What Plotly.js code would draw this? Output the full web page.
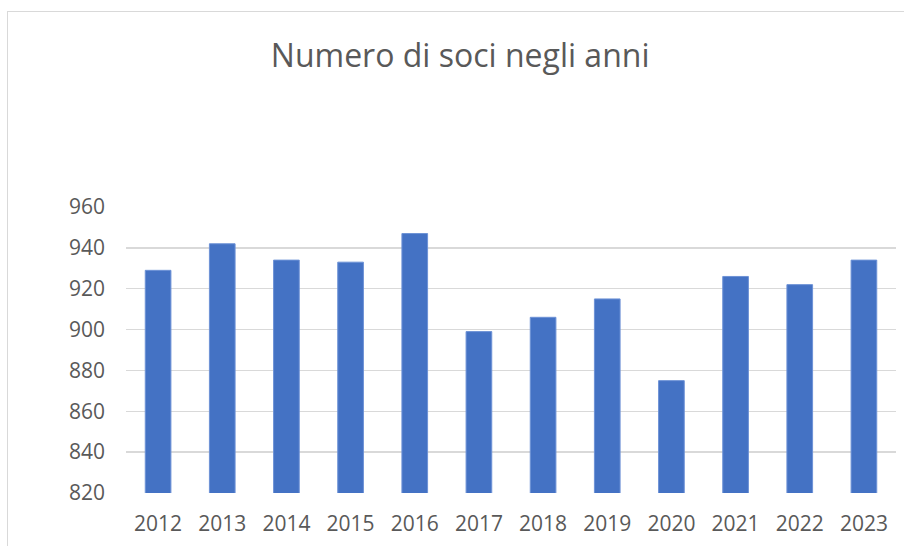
<!DOCTYPE html>
<html>
<head>
<meta charset="utf-8">
<script src="https://cdn.plot.ly/plotly-3.0.1.min.js"></script>
<style>
  html, body { margin: 0; padding: 0; background: #fff; }
  #wrap { position: relative; width: 904px; height: 546px; overflow: hidden; }
  #chart { position: absolute; left: 0; top: 0; width: 904px; height: 546px; }
  #frame { position: absolute; left: 7px; top: 11px; width: 960px; height: 600px;
           border-left: 1.5px solid #d9d9d9; border-top: 1.5px solid #d9d9d9; pointer-events: none; }
</style>
</head>
<body>
<div id="wrap">
  <div id="chart"></div>
  <div id="frame"></div>
</div>
<script>
const years = ["2012","2013","2014","2015","2016","2017","2018","2019","2020","2021","2022","2023"];
const members = [929, 942, 934, 933, 947, 899, 906, 915, 875, 926, 922, 934];
const yTicks = [820, 840, 860, 880, 900, 920, 940, 960];
const chartTitle = "Numero di soci negli anni";

const trace = {
  type: "bar",
  x: years,
  y: members,
  marker: { color: "#4472c4", line: { color: "#6d92d6", width: 1 } },
  hoverinfo: "x+y"
};

const layout = {
  width: 904,
  height: 546,
  paper_bgcolor: "#ffffff",
  plot_bgcolor: "#ffffff",
  margin: { l: 126, r: 8, t: 207, b: 53, pad: 0 },
  bargap: 0.6,
  showlegend: false,
  title: {
    text: chartTitle,
    font: { family: "Open Sans", size: 32, color: "#595959" },
    x: 0.509,
    xanchor: "center",
    y: 0.897,
    yanchor: "middle"
  },
  xaxis: {
    type: "category",
    tickfont: { family: "Open Sans", size: 21, color: "#595959" },
    showgrid: false,
    showline: false,
    zeroline: false,
    ticks: "",
    ticklabelstandoff: 16
  },
  yaxis: {
    range: [820, 960],
    tickvals: yTicks,
    ticktext: yTicks.map(String),
    tickfont: { family: "Open Sans", size: 21, color: "#595959" },
    showgrid: true,
    gridcolor: "#d9d9d9",
    gridwidth: 1.5,
    showline: false,
    zeroline: false,
    ticks: "",
    ticklabelstandoff: 20
  }
};

Plotly.newPlot("chart", [trace], layout, { displayModeBar: false, staticPlot: true });
</script>
</body>
</html>
